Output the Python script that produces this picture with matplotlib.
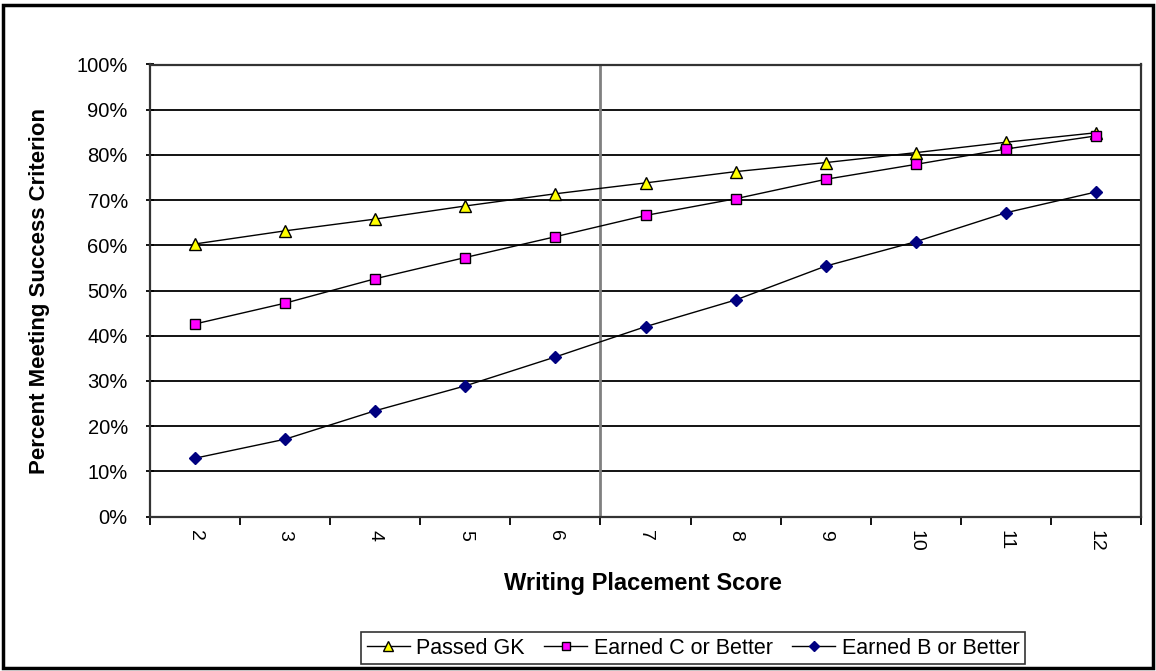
import numpy as np
import matplotlib.pyplot as plt
from matplotlib.patches import Rectangle

plt.rcParams['font.family'] = ['Liberation Sans', 'DejaVu Sans']

scores = ["2", "3", "4", "5", "6", "7", "8", "9", "10", "11", "12"]
passed_gk = [60.3, 63.2, 65.8, 68.7, 71.4, 73.8, 76.3, 78.3, 80.5, 82.8, 84.9]
earned_c = [42.6, 47.2, 52.6, 57.3, 61.9, 66.6, 70.3, 74.6, 77.9, 81.3, 84.2]
earned_b = [12.9, 17.1, 23.4, 28.9, 35.3, 42.0, 47.9, 55.4, 60.8, 67.2, 71.8]
cutoff_after = "6"  # vertical line between scores 6 and 7

W, H = 1156, 671
fig = plt.figure(figsize=(W / 100, H / 100), dpi=100)
ax = fig.add_axes([150 / W, 1 - 516.5 / H, (1141 - 150) / W, (516.5 - 64.5) / H])

x = np.arange(len(scores))
ax.plot(x, passed_gk, '-', color='black', lw=1, marker='^', ms=8.5,
        mfc='#FFFF00', mec='black', mew=1, label='Passed GK', zorder=4)
ax.plot(x, earned_c, '-', color='black', lw=1, marker='s', ms=7.5,
        mfc='#FF00FF', mec='black', mew=1, label='Earned C or Better', zorder=4)
ax.plot(x, earned_b, '-', color='black', lw=1, marker='D', ms=6.5,
        mfc='#000080', mec='#000080', mew=1, label='Earned B or Better', zorder=4)

ax.axvline(x[scores.index(cutoff_after)] + 0.5, color='#808080', lw=2, zorder=2)

ax.set_xlim(-0.5, len(scores) - 0.5)
ax.set_ylim(0, 100)
ax.set_yticks(np.arange(0, 101, 10))
ax.set_yticklabels([f"{v}%" for v in range(0, 101, 10)], fontsize=14.5)
ax.yaxis.grid(True, color='black', lw=1.3, zorder=1)
ax.set_axisbelow(True)

ax.set_xticks(np.arange(-0.5, len(scores), 1.0))
ax.set_xticklabels([])
ax.set_xticks(x, minor=True)
ax.set_xticklabels(scores, minor=True, rotation=-90, fontsize=14)
ax.tick_params(axis='x', which='minor', length=0, pad=10)
ax.tick_params(axis='x', which='major', length=6, width=1.3, direction='out')
ax.tick_params(axis='y', length=6, width=1.3, direction='inout', pad=13)

for s in ax.spines.values():
    s.set_color('#333333')
    s.set_linewidth(1.6)

ax.set_xlabel('Writing Placement Score', fontsize=17, fontweight='bold')
ax.set_ylabel('Percent Meeting Success Criterion', fontsize=16, fontweight='bold')
ax.xaxis.set_label_coords(0.5 - 3 / 991, (516.5 - 572) / 452)
ax.yaxis.set_label_coords((50 - 150) / 991, 0.5)

leg = fig.legend(loc='center', bbox_to_anchor=(693 / W, 1 - 648 / H), ncol=3,
                 fontsize=15.5, frameon=True, fancybox=False, handlelength=2.0,
                 handletextpad=0.3, columnspacing=0.9, borderpad=0.25,
                 markerscale=0.85)
leg.get_frame().set_edgecolor('black')
leg.get_frame().set_linewidth(1.2)

fig.patches.append(Rectangle((3 / W, 3 / H), 1150 / W, 663 / H, transform=fig.transFigure,
                             fill=False, edgecolor='black', lw=2.5))

fig.savefig('out.png', dpi=100)
